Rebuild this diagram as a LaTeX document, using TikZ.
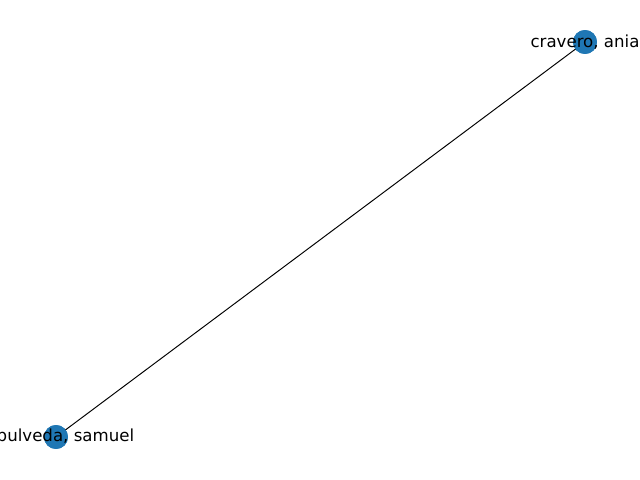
\documentclass[tikz,border=0pt]{standalone}
\usepackage{fontspec}
\setmainfont{DejaVu Sans}
\definecolor{nodeblue}{HTML}{1F77B4}
\begin{document}
\begin{tikzpicture}[x=0.01in, y=0.01in, font=\fontsize{12}{14}\selectfont,
  person/.style={circle, fill=nodeblue, minimum size=17.3pt, inner sep=0pt}]

% Frame of the figure
\useasboundingbox (0,0) rectangle (640,480);
\clip (0,0) rectangle (640,480);

% People
\node[person] (sepulveda) at (56,43) {};
\node[person] (cravero) at (585,438) {};

% Link
\draw[black, line width=0.7pt] (sepulveda.center) -- (cravero.center);
\node[person] at (sepulveda) {};
\node[person] at (cravero) {};

% Labels
\node (sepulvedalabel) at (sepulveda) {sepulveda, samuel};
\node (craverolabel) at (cravero) {cravero, ania};

\end{tikzpicture}
\end{document}
